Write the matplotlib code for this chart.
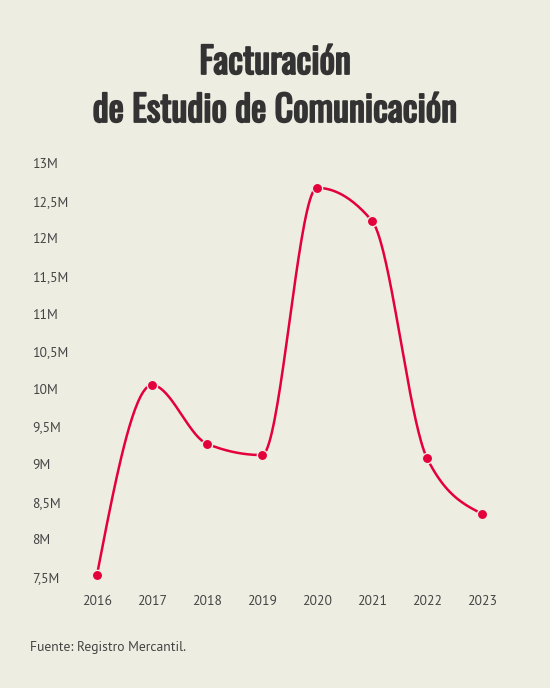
import numpy as np
import matplotlib
matplotlib.use("Agg")
import matplotlib.pyplot as plt
import matplotlib.patheffects as pe
from matplotlib.ticker import FuncFormatter

# ── Data ───────────────────────────────────────────────────────
years   = [2016, 2017, 2018, 2019, 2020, 2021, 2022, 2023]
revenue = [7.53, 10.05, 9.27, 9.12, 12.67, 12.23, 9.08, 8.34]  # millions
y_ticks = [7.5, 8, 8.5, 9, 9.5, 10, 10.5, 11, 11.5, 12, 12.5, 13]

BG     = "#eeede2"
RED    = "#e4003b"
TEXT   = "#444444"
TITLE  = "#333333"
BODY_FONT  = ["PT Sans", "DejaVu Sans"]
TITLE_FONT = ["Oswald", "DejaVu Sans"]


# monotone cubic (like d3 curveMonotoneX), only for drawing the line
def monotone_curve(x, y, n=40):
    x = np.asarray(x, float)
    y = np.asarray(y, float)
    h = np.diff(x)
    s = np.diff(y) / h
    t = np.zeros_like(y)
    for i in range(1, len(y) - 1):
        p = (s[i - 1] * h[i] + s[i] * h[i - 1]) / (h[i - 1] + h[i])
        t[i] = (np.sign(s[i - 1]) + np.sign(s[i])) * min(abs(s[i - 1]), abs(s[i]), 0.5 * abs(p))
    t[0] = (3 * s[0] - t[1]) / 2
    t[-1] = (3 * s[-1] - t[-2]) / 2
    xs, ys = [], []
    for i in range(len(y) - 1):
        u = np.linspace(0, 1, n)
        dx = h[i]
        h00 = 2 * u**3 - 3 * u**2 + 1
        h10 = u**3 - 2 * u**2 + u
        h01 = -2 * u**3 + 3 * u**2
        h11 = u**3 - u**2
        xs.append(x[i] + u * dx)
        ys.append(h00 * y[i] + h10 * dx * t[i] + h01 * y[i + 1] + h11 * dx * t[i + 1])
    return np.concatenate(xs), np.concatenate(ys)


fig = plt.figure(figsize=(5.5, 6.88), dpi=100, facecolor=BG)
ax = fig.add_axes([70 / 550, 1 - 577 / 688, 440 / 550, 414 / 688])
ax.set_facecolor(BG)

cx, cy = monotone_curve(years, revenue)
ax.plot(cx, cy, color=RED, linewidth=1.8, clip_on=False, zorder=2)
ax.scatter(years, revenue, s=55, color=RED, edgecolor=BG, linewidth=1.0,
           clip_on=False, zorder=3)

ax.set_xlim(2016 - 27 / 55, 2023 + 28 / 55)
ax.set_ylim(7.5, 13)
ax.set_xticks(years)
ax.set_yticks(y_ticks)
ax.yaxis.set_major_formatter(FuncFormatter(
    lambda v, _: (f"{v:g}".replace(".", ",")) + "M"))

for s in ax.spines.values():
    s.set_visible(False)
ax.tick_params(axis="both", length=0, colors=TEXT, labelsize=9.8)
ax.tick_params(axis="y", pad=27.5)
ax.tick_params(axis="x", pad=13)
for lbl in ax.get_yticklabels():
    lbl.set_horizontalalignment("left")
    lbl.set_family(BODY_FONT)
for lbl in ax.get_xticklabels():
    lbl.set_family(BODY_FONT)

bold = [pe.withStroke(linewidth=1.3, foreground=TITLE)]
fig.text(0.5, 1 - 63 / 688, "Facturación", ha="center", va="center",
         fontsize=26, color=TITLE, family=TITLE_FONT, path_effects=bold)
fig.text(0.5, 1 - 111 / 688, "de Estudio de Comunicación", ha="center", va="center",
         fontsize=26, color=TITLE, family=TITLE_FONT, path_effects=bold)

fig.text(30 / 550, 1 - 648 / 688, "Fuente: Registro Mercantil.", ha="left", va="center",
         fontsize=9.8, color=TEXT, family=BODY_FONT)

fig.savefig("out.png", dpi=100, facecolor=BG)
